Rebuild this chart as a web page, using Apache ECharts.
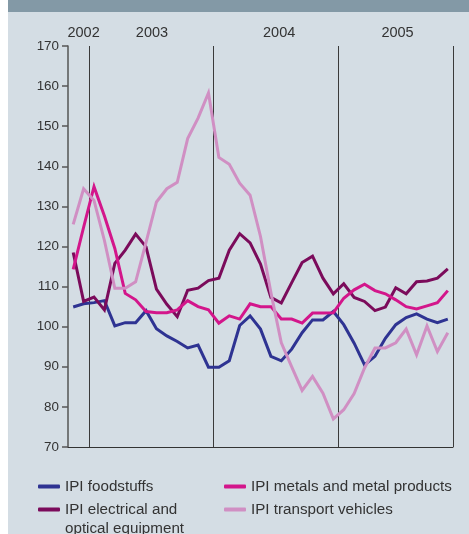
<!DOCTYPE html>
<html>
<head>
<meta charset="utf-8">
<script src="https://cdn.jsdelivr.net/npm/echarts@6/dist/echarts.min.js"></script>
<style>
  html, body { margin: 0; padding: 0; background: #ffffff; }
  #chart { width: 469px; height: 534px; }
</style>
</head>
<body>
<div id="chart"></div>
<script>
const months = [
  'Nov 2002','Dec 2002',
  'Jan 2003','Feb 2003','Mar 2003','Apr 2003','May 2003','Jun 2003','Jul 2003','Aug 2003','Sep 2003','Oct 2003','Nov 2003','Dec 2003',
  'Jan 2004','Feb 2004','Mar 2004','Apr 2004','May 2004','Jun 2004','Jul 2004','Aug 2004','Sep 2004','Oct 2004','Nov 2004','Dec 2004',
  'Jan 2005','Feb 2005','Mar 2005','Apr 2005','May 2005','Jun 2005','Jul 2005','Aug 2005','Sep 2005','Oct 2005','Nov 2005'
];

const foodstuffs = [104.9, 105.7, 106.0, 106.5, 100.2, 101.0, 101.0, 104.0, 99.5, 97.7, 96.3, 94.7, 95.4, 89.9, 89.9, 91.5, 100.3, 102.7, 99.4, 92.6, 91.5, 94.4, 98.5, 101.7, 101.7, 103.8, 100.5, 95.9, 90.5, 92.6, 97.1, 100.5, 102.3, 103.2, 101.9, 101.0, 101.9];
const metals = [114.3, 124.8, 134.9, 127.6, 119.5, 108.3, 106.7, 103.8, 103.5, 103.5, 104.2, 106.5, 105.0, 104.2, 100.9, 102.7, 101.9, 105.7, 105.0, 105.0, 101.9, 101.9, 100.9, 103.4, 103.4, 103.5, 107.1, 109.2, 110.6, 109.0, 108.2, 106.7, 105.0, 104.4, 105.2, 106.0, 109.0];
const electrical = [118.5, 106.3, 107.4, 104.2, 115.8, 119.1, 123.1, 119.9, 109.4, 105.6, 102.5, 109.1, 109.6, 111.5, 112.1, 119.1, 123.2, 120.9, 115.6, 107.3, 105.9, 111.0, 116.0, 117.6, 112.1, 108.2, 110.7, 107.3, 106.3, 104.0, 104.9, 109.7, 108.2, 111.2, 111.4, 112.1, 114.4];
const transport = [125.5, 134.4, 131.5, 121.5, 109.6, 109.6, 111.2, 121.0, 131.1, 134.4, 136.0, 146.9, 152.0, 158.3, 142.2, 140.5, 135.8, 132.8, 122.5, 108.5, 96.0, 90.0, 84.1, 87.6, 83.4, 77.0, 79.3, 83.3, 89.7, 94.7, 94.7, 96.0, 99.4, 93.0, 100.2, 93.8, 98.5];

const yearLabels = ['2002', '2003', '2004', '2005'];
const yearLabelMonths = [1.5, 8.07, 20.29, 31.67]; // position in months from axis start

const names = {
  food: 'IPI foodstuffs',
  metals: 'IPI metals and metal products',
  elec: 'IPI electrical and optical equipment',
  trans: 'IPI transport vehicles'
};
const colors = {
  food: '#2e3392',
  metals: '#d3168b',
  elec: '#7b0b5b',
  trans: '#d08fc3'
};

const font = 'Liberation Sans, Arial, sans-serif';
const textColor = '#333333';

function legendItem(name, left, top) {
  return {
    data: [name],
    left: left,
    top: top,
    orient: 'vertical',
    padding: 0,
    itemWidth: 22,
    itemHeight: 4,
    icon: 'roundRect',
    selectedMode: false,
    formatter: function (n) {
      // blank first line keeps the icon level with the first text line
      return n === names.elec ? ' \nIPI electrical and\noptical equipment' : n;
    },
    textStyle: {
      fontFamily: font,
      fontSize: 15.2,
      color: textColor,
      lineHeight: 19
    }
  };
}

const chart = echarts.init(document.getElementById('chart'), null, { renderer: 'canvas' });

const option = {
  backgroundColor: '#d4dde4',
  animation: false,
  graphic: [
    { type: 'rect', shape: { x: 0, y: 0, width: 8, height: 534 }, style: { fill: '#ffffff' }, silent: true },
    { type: 'rect', shape: { x: 8, y: 0, width: 461, height: 12 }, style: { fill: '#8399a6' }, silent: true }
  ],
  grid: { left: 68, right: 16, top: 46, bottom: 87, containLabel: false, outerBoundsMode: 'none' },
  legend: [
    legendItem(names.food, 38, 477),
    legendItem(names.metals, 224, 477),
    legendItem(names.elec, 38, 481),
    legendItem(names.trans, 224, 500)
  ],
  xAxis: [
    {
      type: 'category',
      data: months,
      boundaryGap: true,
      position: 'bottom',
      axisLine: { show: true, lineStyle: { color: '#333333', width: 1 } },
      axisTick: { show: false },
      axisLabel: { show: false },
      splitLine: {
        show: true,
        interval: function (idx) { return !!months[idx] && months[idx].indexOf('Jan') === 0; },
        lineStyle: { color: '#3a3a3a', width: 1 }
      }
    },
    {
      type: 'value',
      position: 'top',
      min: 0,
      max: months.length,
      axisLine: { show: false },
      axisTick: { show: false },
      splitLine: { show: false },
      axisLabel: {
        show: true,
        customValues: yearLabelMonths,
        margin: 6,
        fontFamily: font,
        fontSize: 14.5,
        color: textColor,
        formatter: function (v) {
          const i = yearLabelMonths.indexOf(v);
          return i >= 0 ? yearLabels[i] : '';
        }
      }
    }
  ],
  yAxis: {
    type: 'value',
    min: 70,
    max: 170,
    interval: 10,
    axisLine: { show: true, lineStyle: { color: '#555555', width: 1.5 } },
    axisTick: { show: true, length: 6, lineStyle: { color: '#555555', width: 1.5 } },
    splitLine: { show: false },
    axisLabel: { margin: 9, fontFamily: font, fontSize: 13.4, color: textColor }
  },
  series: [
    { name: names.food, type: 'line', data: foodstuffs, color: colors.food },
    { name: names.elec, type: 'line', data: electrical, color: colors.elec },
    { name: names.metals, type: 'line', data: metals, color: colors.metals },
    { name: names.trans, type: 'line', data: transport, color: colors.trans }
  ].map(function (s) {
    return Object.assign(s, {
      xAxisIndex: 0,
      yAxisIndex: 0,
      symbol: 'none',
      smooth: false,
      lineStyle: { width: 3, color: s.color, join: 'miter' },
      itemStyle: { color: s.color },
      emphasis: { disabled: true }
    });
  })
};

chart.setOption(option);
</script>
</body>
</html>
